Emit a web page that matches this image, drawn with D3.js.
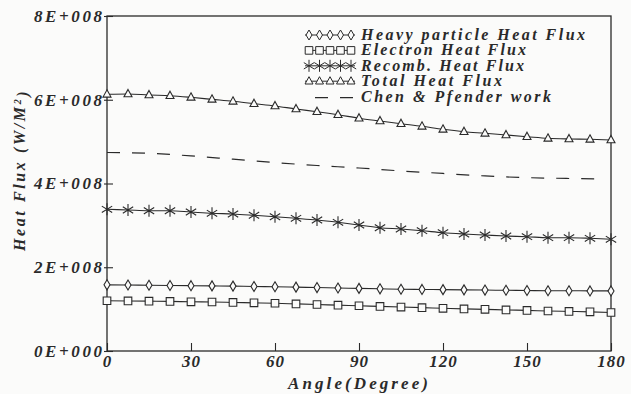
<!DOCTYPE html>
<html>
<head>
<meta charset="utf-8">
<script src="https://cdn.jsdelivr.net/npm/d3@7/dist/d3.min.js"></script>
<style>
  body { margin: 0; background: #fbfbfa; }
  svg { display: block; }
  svg text { font-family: "Liberation Serif", "Times New Roman", "DejaVu Serif", serif !important; font-weight: bold; font-style: italic; fill: #2a2a2a; }
</style>
</head>
<body>
<svg width="631" height="394" font-family="Liberation Serif"></svg>
<script>
// angles 0..180 every 7.5 degrees
var angles = [0, 7.5, 15, 22.5, 30, 37.5, 45, 52.5, 60, 67.5, 75, 82.5, 90,
  97.5, 105, 112.5, 120, 127.5, 135, 142.5, 150, 157.5, 165, 172.5, 180];

// values in units of 1E+008 W/M^2
var heavy = [1.58, 1.575, 1.57, 1.565, 1.56, 1.555, 1.55, 1.54, 1.535, 1.525, 1.515, 1.505, 1.495,
  1.485, 1.475, 1.47, 1.465, 1.46, 1.455, 1.45, 1.445, 1.44, 1.44, 1.435, 1.435];
var electron = [1.20, 1.195, 1.19, 1.185, 1.175, 1.17, 1.16, 1.15, 1.14, 1.125, 1.11, 1.095, 1.08,
  1.065, 1.05, 1.035, 1.02, 1.005, 0.995, 0.98, 0.97, 0.955, 0.945, 0.935, 0.92];
var recomb = [3.384, 3.367, 3.35, 3.35, 3.319, 3.288, 3.272, 3.241, 3.207, 3.169, 3.128, 3.073, 3.009,
  2.944, 2.913, 2.873, 2.825, 2.794, 2.77, 2.746, 2.73, 2.706, 2.706, 2.691, 2.667];
var total = [6.13, 6.137, 6.113, 6.097, 6.058, 6.01, 5.963, 5.906, 5.851, 5.779, 5.715, 5.643, 5.56,
  5.493, 5.428, 5.366, 5.294, 5.237, 5.199, 5.158, 5.118, 5.079, 5.063, 5.055, 5.039];

// Chen & Pfender work (dashed, no markers)
var chenAngles = [0, 15, 30, 45, 60, 75, 90, 105, 120, 135, 150, 165, 178];
var chen = [4.74, 4.72, 4.66, 4.58, 4.50, 4.43, 4.37, 4.30, 4.24, 4.18, 4.14, 4.12, 4.11];

var xTicks = [0, 30, 60, 90, 120, 150, 180];
var yTicks = [0, 2, 4, 6, 8];
var yTickLabels = ["0E+000", "2E+008", "4E+008", "6E+008", "8E+008"];

var legendNames = ["Heavy particle Heat Flux", "Electron Heat Flux", "Recomb. Heat Flux",
  "Total Heat Flux", "Chen & Pfender work"];
var legendWidths = [224, 165, 163, 141, 190];

var ink = "#2a2a2a";
var svg = d3.select("svg");
var margin = { top: 16, right: 20, bottom: 43, left: 107 },
  width = 631 - margin.left - margin.right,
  height = 394 - margin.top - margin.bottom;

var x = d3.scaleLinear().domain([0, 180]).range([0, width]),
  y = d3.scaleLinear().domain([0, 8]).range([height, 0]);

var g = svg.append("g")
  .attr("transform", "translate(" + margin.left + "," + margin.top + ")");

// frame
g.append("rect")
  .attr("width", width).attr("height", height)
  .attr("fill", "none").attr("stroke", ink).attr("stroke-width", 1.3);

// axes
var xAxis = g.append("g")
  .attr("transform", "translate(0," + height + ")")
  .call(d3.axisBottom(x).tickValues(xTicks).tickSize(-8).tickPadding(2).tickFormat(d3.format("d")));
var yAxis = g.append("g")
  .call(d3.axisLeft(y).tickValues(yTicks).tickSize(-6).tickPadding(5)
    .tickFormat(function (d, i) { return yTickLabels[i]; }));

[xAxis, yAxis].forEach(function (a) {
  a.attr("font-family", null).attr("font-size", null);
  a.select(".domain").remove();
  a.selectAll(".tick line").attr("stroke", ink).attr("stroke-width", 1.1);
  a.selectAll(".tick text").attr("fill", ink).style("font-size", "17px");
});
xAxis.selectAll(".tick text").attr("dy", "0.8em").style("letter-spacing", "1px");
yAxis.selectAll(".tick text").attr("textLength", 68).attr("lengthAdjust", "spacing");
// y ticks cross the axis slightly
yAxis.selectAll(".tick line").attr("x1", -3);

// axis titles
svg.append("text")
  .attr("x", 288).attr("y", 389)
  .attr("textLength", 140).attr("lengthAdjust", "spacing")
  .style("font-size", "17px")
  .text("Angle(Degree)");

var yt = svg.append("text")
  .attr("transform", "translate(25,251) rotate(-90)")
  .style("font-size", "16px").style("letter-spacing", "2.6px");
yt.append("tspan").text("Heat Flux (W/M");
yt.append("tspan").attr("dy", "-0.45em").style("font-size", "10px").text("2");
yt.append("tspan").attr("dy", "0.45em").text(")");

// marker shapes
var shapes = {
  diamond: "M0,-5L3,0L0,5L-3,0Z",
  square: "M-3.8,-3.8H3.8V3.8H-3.8Z",
  triangle: "M0,-4.5L4,2.8H-4Z",
  star: "M0,-6V6M-5.2,-3.2L5.2,3.2M-5.2,3.2L5.2,-3.2"
};

var series = [
  { name: legendNames[0], values: heavy, shape: "diamond" },
  { name: legendNames[1], values: electron, shape: "square" },
  { name: legendNames[2], values: recomb, shape: "star" },
  { name: legendNames[3], values: total, shape: "triangle" }
];

var line = d3.line()
  .x(function (d) { return x(d[0]); })
  .y(function (d) { return y(d[1]); })
  .curve(d3.curveMonotoneX);

series.forEach(function (s) {
  var pts = angles.map(function (a, i) { return [a, s.values[i]]; });
  g.append("path")
    .datum(pts)
    .attr("fill", "none").attr("stroke", ink).attr("stroke-width", 1.1)
    .attr("d", line);
  g.selectAll(".m-" + s.shape)
    .data(pts)
    .enter().append("path")
    .attr("class", "m-" + s.shape)
    .attr("transform", function (d) { return "translate(" + x(d[0]) + "," + y(d[1]) + ")"; })
    .attr("d", shapes[s.shape])
    .attr("fill", s.shape == "star" ? "none" : "#fbfbfa")
    .attr("stroke", ink).attr("stroke-width", 1.1);
});

g.append("path")
  .datum(chenAngles.map(function (a, i) { return [a, chen[i]]; }))
  .attr("fill", "none").attr("stroke", ink).attr("stroke-width", 1.2)
  .attr("stroke-dasharray", "13,12")
  .attr("d", line);

// legend
var lg = svg.append("g").attr("transform", "translate(303,35)");
legendNames.forEach(function (name, i) {
  var row = lg.append("g").attr("transform", "translate(0," + (i * 15.4) + ")");
  if (i < 4) {
    var s = series[i];
    row.append("line").attr("x1", 2).attr("x2", 52).attr("y1", 0).attr("y2", 0)
      .attr("stroke", ink).attr("stroke-width", 1);
    d3.range(5).forEach(function (k) {
      row.append("path")
        .attr("transform", "translate(" + (6 + k * 10.5) + ",0)")
        .attr("d", shapes[s.shape])
        .attr("fill", s.shape == "star" ? "none" : "#fbfbfa")
        .attr("stroke", ink).attr("stroke-width", 1);
    });
  } else {
    row.append("line").attr("x1", 12).attr("x2", 52).attr("y1", 1).attr("y2", 1)
      .attr("stroke", ink).attr("stroke-width", 1.2).attr("stroke-dasharray", "13,12");
  }
  row.append("text")
    .attr("x", 58).attr("y", 5)
    .attr("textLength", legendWidths[i]).attr("lengthAdjust", "spacing")
    .style("font-size", "16px")
    .text(name);
});
</script>
</body>
</html>
